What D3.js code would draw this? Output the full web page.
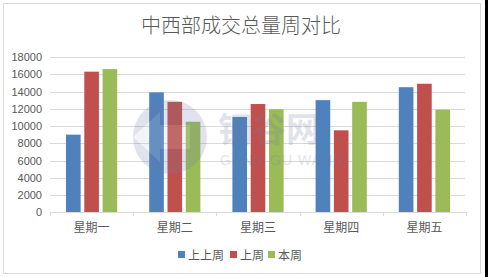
<!DOCTYPE html>
<html>
<head>
<meta charset="utf-8">
<script src="https://cdn.jsdelivr.net/npm/d3@7"></script>
<style>
  body { margin: 0; background: #000; }
  svg { display: block; }
</style>
</head>
<body>
<svg id="chart" width="488" height="277"></svg>
<script>
// data
var days = ["星期一", "星期二", "星期三", "星期四", "星期五"];
var seriesNames = ["上上周", "上周", "本周"];
var shangShangZhou = [9000, 13900, 11050, 13000, 14500];
var shangZhou = [16300, 12800, 12550, 9500, 14900];
var benZhou = [16600, 10500, 11950, 12800, 11900];
var yTicks = [0, 2000, 4000, 6000, 8000, 10000, 12000, 14000, 16000, 18000];

var colors = ["#4F81BD", "#C0504D", "#9BBB59"];
var series = [shangShangZhou, shangZhou, benZhou];

var svg = d3.select("#chart");

// white card with light border
svg.append("rect")
    .attr("x", 0).attr("y", 0)
    .attr("width", 485).attr("height", 277)
    .attr("fill", "#fff");
svg.append("rect")
    .attr("x", 3.5).attr("y", 3.5)
    .attr("width", 477).attr("height", 270)
    .attr("fill", "none")
    .style("stroke", "#d9d9d9");

var plotLeft = 50, plotRight = 466, plotTop = 57, plotBottom = 212.3;

var x = d3.scaleBand().domain(days).range([plotLeft, plotRight]).paddingInner(0).paddingOuter(0);
var x1 = d3.scaleBand().domain(seriesNames).range([16, x.bandwidth() - 16]).paddingInner(0.2);
var y = d3.scaleLinear().domain([0, 18000]).range([plotBottom, plotTop]);

// title
svg.append("text")
    .attr("x", 241).attr("y", 33)
    .attr("text-anchor", "middle")
    .style("font-family", "'Noto Sans CJK SC', sans-serif")
    .style("font-weight", "300")
    .style("font-size", "20px")
    .style("fill", "#595959")
    .text("中西部成交总量周对比");

// gridlines
svg.append("g")
    .selectAll("line")
    .data(yTicks.slice(1))
    .enter()
    .append("line")
    .attr("x1", plotLeft).attr("x2", plotRight - 1)
    .attr("y1", d => Math.round(y(d)) + 0.5)
    .attr("y2", d => Math.round(y(d)) + 0.5)
    .style("stroke", "#d9d9d9");

// y labels
svg.append("g")
    .selectAll("text")
    .data(yTicks)
    .enter()
    .append("text")
    .attr("x", 42)
    .attr("y", d => y(d) + 4)
    .attr("text-anchor", "end")
    .style("font-family", "'Liberation Sans', Arial, sans-serif")
    .style("font-size", "11px")
    .style("fill", "#595959")
    .text(d => d);

// bars
series.forEach(function(vals, s) {
    svg.append("g")
        .selectAll("rect")
        .data(vals)
        .enter()
        .append("rect")
        .attr("x", (d, i) => x(days[i]) + x1(seriesNames[s]))
        .attr("y", d => y(d))
        .attr("width", x1.bandwidth())
        .attr("height", d => plotBottom - y(d))
        .style("fill", colors[s]);
});

// x axis line and ticks
svg.append("line")
    .attr("x1", plotLeft).attr("x2", plotRight)
    .attr("y1", 212.5).attr("y2", 212.5)
    .style("stroke", "#d9d9d9");
svg.append("g")
    .selectAll("line")
    .data(days.concat(["end"]))
    .enter()
    .append("line")
    .attr("x1", (d, i) => Math.round(plotLeft + i * x.bandwidth()) + 0.5)
    .attr("x2", (d, i) => Math.round(plotLeft + i * x.bandwidth()) + 0.5)
    .attr("y1", 212).attr("y2", 216)
    .style("stroke", "#d9d9d9");

// x labels
svg.append("g")
    .selectAll("text")
    .data(days)
    .enter()
    .append("text")
    .attr("x", d => x(d) + x.bandwidth() / 2)
    .attr("y", 232)
    .attr("text-anchor", "middle")
    .style("font-family", "'Noto Sans CJK SC', sans-serif")
    .style("font-size", "12px")
    .style("fill", "#595959")
    .text(d => d);

// watermark
var wm = svg.append("g").style("opacity", 0.2);
wm.append("circle")
    .attr("cx", 170).attr("cy", 137).attr("r", 37)
    .style("fill", "#6f78a3");
wm.append("path")
    .attr("d", "M133,137 L160,112 L160,125 L190,125 L190,149 L160,149 L160,162 Z")
    .style("fill", "#fff")
    .style("opacity", 0.6);
wm.append("text")
    .attr("x", 218).attr("y", 142)
    .style("font-family", "'Noto Sans CJK SC', sans-serif")
    .style("font-weight", "bold")
    .style("font-size", "34px")
    .style("fill", "#6f78a3")
    .text("钢谷网");
wm.append("text")
    .attr("x", 220).attr("y", 165)
    .style("font-family", "'Liberation Sans', Arial, sans-serif")
    .style("font-size", "14px")
    .style("letter-spacing", "1px")
    .style("fill", "#6f78a3")
    .text("GANG GU WANG");

// legend
var legendX = [178, 230, 268];
var legend = svg.append("g")
    .selectAll("g")
    .data(seriesNames)
    .enter()
    .append("g")
    .attr("transform", (d, i) => "translate(" + legendX[i] + ",251)");
legend.append("rect")
    .attr("width", 7).attr("height", 7)
    .style("fill", (d, i) => colors[i]);
legend.append("text")
    .attr("x", 10).attr("y", 8.5)
    .style("font-family", "'Noto Sans CJK SC', sans-serif")
    .style("font-size", "12px")
    .style("fill", "#595959")
    .text(d => d);
</script>
</body>
</html>
